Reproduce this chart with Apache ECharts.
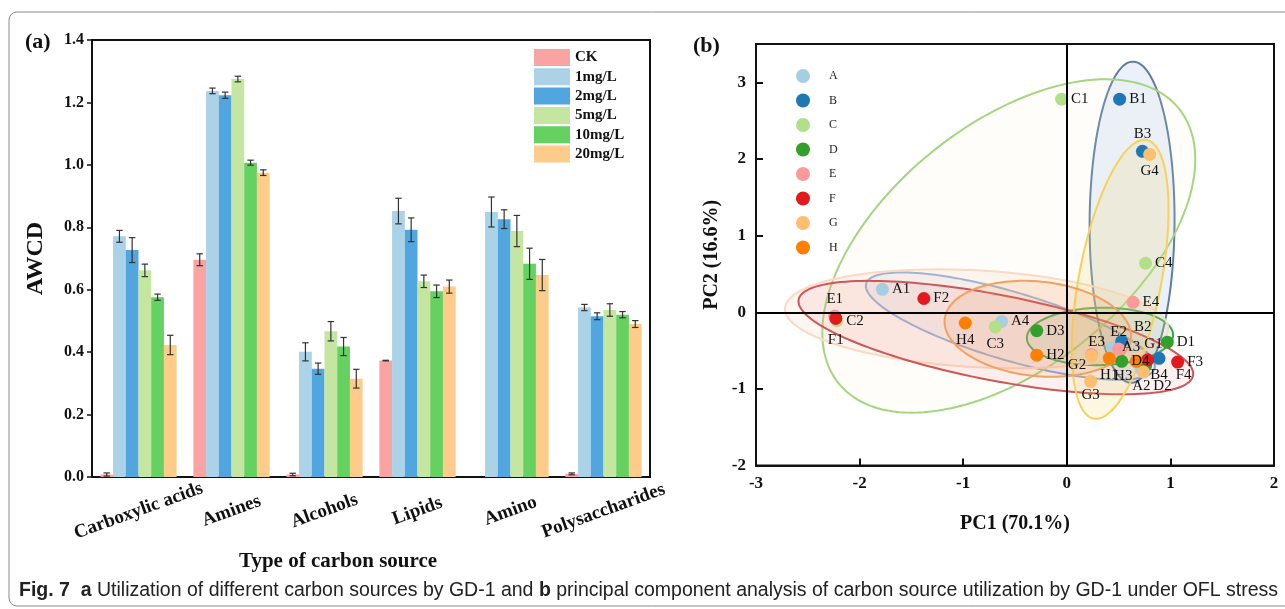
<!DOCTYPE html>
<html>
<head>
<meta charset="utf-8">
<script src="https://cdn.jsdelivr.net/npm/echarts@6/dist/echarts.min.js"></script>
<style>
    html, body { margin: 0; padding: 0; background: #fff; }
    #chart { width: 1285px; height: 609px; }
</style>
</head>
<body>
<div id="chart"></div>
<script>
    // Panel (a): average well colour development per carbon source type
    const categories = ['Carboxylic acids', 'Amines', 'Alcohols', 'Lipids', 'Amino', 'Polysaccharides'];
    const doseNames = ['CK', '1mg/L', '2mg/L', '5mg/L', '10mg/L', '20mg/L'];
    const awcdCK = [0.008, 0.696, 0.008, 0.373, null, 0.010];
    const awcd1 = [0.771, 1.237, 0.401, 0.852, 0.849, 0.543];
    const awcd2 = [0.727, 1.223, 0.347, 0.792, 0.826, 0.515];
    const awcd5 = [0.662, 1.275, 0.467, 0.627, 0.788, 0.535];
    const awcd10 = [0.576, 1.007, 0.418, 0.595, 0.683, 0.520];
    const awcd20 = [0.423, 0.975, 0.315, 0.610, 0.647, 0.490];
    // error bars (half length)
    const errCK = [0.005, 0.019, 0.004, 0.001, null, 0.003];
    const err1 = [0.019, 0.009, 0.029, 0.041, 0.048, 0.010];
    const err2 = [0.040, 0.010, 0.018, 0.038, 0.030, 0.011];
    const err5 = [0.020, 0.009, 0.031, 0.020, 0.050, 0.020];
    const err10 = [0.010, 0.008, 0.029, 0.020, 0.050, 0.010];
    const err20 = [0.031, 0.009, 0.030, 0.021, 0.050, 0.011];

    // Panel (b): PCA scores, 4 replicates per group
    const groups = ['A', 'B', 'C', 'D', 'E', 'F', 'G', 'H'];
    const pointsA = [[-1.78, 0.30], [0.72, -0.74], [0.44, -0.46], [-0.63, -0.12]];
    const pointsB = [[0.51, 2.78], [0.53, -0.38], [0.73, 2.10], [0.89, -0.60]];
    const pointsC = [[-0.05, 2.78], [-2.22, -0.11], [-0.69, -0.19], [0.76, 0.64]];
    const pointsD = [[0.97, -0.39], [0.76, -0.70], [-0.29, -0.24], [0.53, -0.64]];
    const pointsE = [[-2.24, -0.05], [0.50, -0.48], [0.24, -0.55], [0.64, 0.13]];
    const pointsF = [[-2.23, -0.08], [-1.38, 0.18], [1.07, -0.65], [0.78, -0.62]];
    const pointsG = [[0.74, -0.78], [0.24, -0.57], [0.23, -0.90], [0.80, 2.06]];
    const pointsH = [[0.41, -0.60], [-0.29, -0.56], [0.67, -0.64], [-0.98, -0.14]];

    // Confidence ellipses: centre PC1, centre PC2, half width, half height, correlation
    const ellipseA = [-0.545, -0.18, 1.395, 0.70, -0.75];
    const ellipseB = [0.63, 1.175, 0.41, 2.095, 0.02];
    const ellipseC = [-0.56, 0.865, 1.80, 2.175, 0.52];
    const ellipseD = [0.32, -0.315, 0.706, 0.375, 0.05];
    const ellipseE = [-0.87, -0.085, 1.85, 0.645, -0.2];
    const ellipseF = [-0.685, -0.33, 1.905, 0.74, -0.64];
    const ellipseG = [0.515, 0.43, 0.467, 1.82, 0.5];
    const ellipseH = [-0.28, -0.215, 0.90, 0.626, -0.15];

    const awcdSeries = [awcdCK, awcd1, awcd2, awcd5, awcd10, awcd20];
    const errSeries = [errCK, err1, err2, err5, err10, err20];
    const pcaPoints = [pointsA, pointsB, pointsC, pointsD, pointsE, pointsF, pointsG, pointsH];
    const ellipses = [ellipseA, ellipseB, ellipseC, ellipseD, ellipseE, ellipseF, ellipseG, ellipseH];

    const serif = '"Liberation Serif", "Times New Roman", serif';
    const sans = '"Liberation Sans", Arial, sans-serif';
    const barColors = ['#F9A3A3', '#ABD2E6', '#51A6E0', '#C4E6A1', '#64D161', '#FDCB8A'];
    const groupColors = ['#A6CEE3', '#1F78B4', '#B2DF8A', '#33A02C', '#FB9A99', '#E31A1C', '#FDBF6F', '#FF7F00'];
    const ellipseStroke = ['#82A9DA', '#5E7FA3', '#A3D67E', '#2EAE4E', '#FCD9C2', '#CD5659', '#F6D15C', '#F2A160'];
    const ellipseFill = [
        'rgba(130,170,220,0.09)', 'rgba(90,150,225,0.13)', 'rgba(245,240,210,0.10)', 'rgba(50,170,70,0.10)',
        'rgba(252,205,175,0.18)', 'rgba(220,90,90,0.09)', 'rgba(240,205,90,0.17)', 'rgba(245,150,80,0.14)'
    ];
    // where each point label sits relative to its point
    const labelPlacement = {
        A1: 'right', A2: 'bottom', A3: 'right', A4: 'right',
        B1: 'right', B2: 'top', B3: 'top', B4: 'bottom',
        C1: 'right', C2: 'right', C3: 'bottom', C4: 'right',
        D1: 'right', D2: 'bottom', D3: 'right', D4: 'right',
        E1: 'top', E2: 'top', E3: 'top', E4: 'right',
        F1: 'bottom', F2: 'right', F3: 'right', F4: 'bottom',
        G1: 'top', G2: 'left', G3: 'bottom', G4: 'bottom',
        H1: 'bottom', H2: 'right', H3: 'bottom', H4: 'bottom'
    };
    // labels pushed aside in the crowded cluster
    const labelNudge = {
        B2: [21, 3], D2: [17, 3], E3: [5, 5], F1: [0, 5], F4: [36, -2],
        G1: [10, -11], G2: [4, 9], H3: [-13, -2], G3: [0, -3]
    };

    const chart = echarts.init(document.getElementById('chart'));

    // Bars of panel (a)
    const barSeries = doseNames.map((name, i) => ({
        name: name,
        type: 'bar',
        xAxisIndex: 0,
        yAxisIndex: 0,
        data: awcdSeries[i],
        barGap: '0%',
        barCategoryGap: '18%',
        itemStyle: { color: barColors[i] },
        z: 2
    }));

    // Error bars: [category, value, error, dose index]
    const errorData = [];
    awcdSeries.forEach((vals, s) => {
        vals.forEach((v, c) => {
            if (v !== null) {
                errorData.push([c, v, errSeries[s][c], s]);
            }
        });
    });

    const errorSeries = {
        type: 'custom',
        xAxisIndex: 0,
        yAxisIndex: 0,
        z: 3,
        silent: true,
        data: errorData,
        encode: { x: 0, y: 1 },
        renderItem: (params, api) => {
            const c = api.value(0), v = api.value(1), e = api.value(2), s = api.value(3);
            const band = api.size([1, 0])[0];
            const barW = band * (1 - 0.18) / doseNames.length;
            const x = api.coord([c, v])[0] + (s - (doseNames.length - 1) / 2) * barW;
            const top = api.coord([c, v + e])[1];
            const bottom = api.coord([c, v - e])[1];
            const cap = 3.2;
            const style = { stroke: '#333', lineWidth: 1.2 };
            return {
                type: 'group',
                children: [
                    { type: 'line', shape: { x1: x, y1: top, x2: x, y2: bottom }, style: style },
                    { type: 'line', shape: { x1: x - cap, y1: top, x2: x + cap, y2: top }, style: style },
                    { type: 'line', shape: { x1: x - cap, y1: bottom, x2: x + cap, y2: bottom }, style: style }
                ]
            };
        }
    };

    // Ellipses of panel (b), drawn through the axes
    const ellipseSeries = {
        type: 'custom',
        xAxisIndex: 1,
        yAxisIndex: 1,
        z: 1,
        silent: true,
        data: ellipses,
        encode: { x: 0, y: 1 },
        renderItem: (params, api) => {
            const cx = api.value(0), cy = api.value(1), wx = api.value(2), hy = api.value(3), rho = api.value(4);
            const k = Math.sqrt(1 - rho * rho);
            const pts = [];
            const n = 160;
            for (let i = 0; i < n; i++) {
                const t = i / n * Math.PI * 2;
                pts.push(api.coord([cx + wx * Math.cos(t), cy + hy * (rho * Math.cos(t) + k * Math.sin(t))]));
            }
            const idx = params.dataIndex;
            return {
                type: 'polygon',
                shape: { points: pts },
                style: { fill: ellipseFill[idx], stroke: ellipseStroke[idx], lineWidth: 2 }
            };
        }
    };

    // Zero lines of panel (b)
    const zeroLines = {
        type: 'scatter',
        xAxisIndex: 1,
        yAxisIndex: 1,
        data: [],
        z: 2,
        markLine: {
            silent: true,
            symbol: 'none',
            animation: false,
            label: { show: false },
            lineStyle: { color: '#000', width: 2, type: 'solid' },
            data: [{ xAxis: 0 }, { yAxis: 0 }]
        }
    };

    const scatterSeries = groups.map((g, gi) => ({
        name: g,
        type: 'scatter',
        xAxisIndex: 1,
        yAxisIndex: 1,
        z: 4,
        symbolSize: 13,
        itemStyle: { color: groupColors[gi], opacity: 1 },
        label: {
            show: true,
            formatter: '{b}',
            fontFamily: serif,
            fontSize: 15,
            color: '#111',
            distance: 3
        },
        emphasis: { disabled: true },
        data: pcaPoints[gi].map((p, k) => {
            const id = g + (k + 1);
            return {
                value: p,
                name: id,
                label: { position: labelPlacement[id], offset: labelNudge[id] || [0, 0] }
            };
        })
    }));

    const axisLineStyle = { color: '#111', width: 2 };

    const option = {
        animation: false,
        backgroundColor: '#fff',
        grid: [
            { left: 92, top: 40, width: 558, height: 437, show: true, borderColor: '#111', borderWidth: 2, backgroundColor: 'transparent' },
            { left: 756, top: 44, width: 518, height: 421.6, show: true, borderColor: '#111', borderWidth: 2, backgroundColor: 'transparent' }
        ],
        legend: [
            {
                data: doseNames,
                orient: 'vertical',
                left: 534,
                top: 49,
                padding: 0,
                itemWidth: 36,
                itemHeight: 17,
                itemGap: 2.3,
                icon: 'rect',
                selectedMode: false,
                textStyle: { fontFamily: serif, fontWeight: 'bold', fontSize: 15, color: '#111' }
            },
            {
                data: groups,
                orient: 'vertical',
                left: 796,
                top: 69,
                padding: 0,
                itemWidth: 14,
                itemHeight: 14,
                itemGap: 10.5,
                icon: 'circle',
                selectedMode: false,
                textStyle: { fontFamily: serif, fontSize: 12, color: '#222', padding: [0, 0, 0, 14] }
            }
        ],
        xAxis: [
            {
                type: 'category',
                gridIndex: 0,
                data: categories,
                axisLine: { lineStyle: axisLineStyle },
                axisTick: { show: false },
                axisLabel: {
                    interval: 0,
                    rotate: 20,
                    align: 'center',
                    verticalAlign: 'middle',
                    margin: 34,
                    fontFamily: serif,
                    fontWeight: 'bold',
                    fontSize: 19,
                    color: '#111'
                },
                name: 'Type of carbon source',
                nameLocation: 'middle',
                nameGap: 74,
                nameTextStyle: { fontFamily: serif, fontWeight: 'bold', fontSize: 21, color: '#111', padding: [0, 66, 0, 0] }
            },
            {
                type: 'value',
                gridIndex: 1,
                min: -3,
                max: 2,
                interval: 1,
                axisLine: { onZero: false, lineStyle: axisLineStyle },
                axisTick: { inside: true, length: 7, lineStyle: { color: '#111', width: 2 } },
                axisLabel: { fontFamily: serif, fontWeight: 'bold', fontSize: 17, color: '#111', margin: 10 },
                splitLine: { show: false },
                name: 'PC1 (70.1%)',
                nameLocation: 'middle',
                nameGap: 48,
                nameTextStyle: { fontFamily: serif, fontWeight: 'bold', fontSize: 20, color: '#111' }
            }
        ],
        yAxis: [
            {
                type: 'value',
                gridIndex: 0,
                min: 0,
                max: 1.4,
                interval: 0.2,
                axisLine: { show: true, lineStyle: axisLineStyle },
                axisTick: { show: true, length: 5, lineStyle: { color: '#111', width: 1.5 } },
                axisLabel: {
                    formatter: (v) => v.toFixed(1),
                    fontFamily: serif,
                    fontWeight: 'bold',
                    fontSize: 16,
                    color: '#111',
                    margin: 8
                },
                splitLine: { show: false },
                name: 'AWCD',
                nameLocation: 'middle',
                nameGap: 44,
                nameTextStyle: { fontFamily: serif, fontWeight: 'bold', fontSize: 24, color: '#111' }
            },
            {
                type: 'value',
                gridIndex: 1,
                min: -2,
                max: 3.5,
                interval: 1,
                axisLine: { show: true, onZero: false, lineStyle: axisLineStyle },
                axisTick: { show: true, inside: true, length: 7, lineStyle: { color: '#111', width: 2 } },
                axisLabel: {
                    formatter: (v) => (Number.isInteger(v) ? String(v) : ''),
                    fontFamily: serif,
                    fontWeight: 'bold',
                    fontSize: 17,
                    color: '#111',
                    margin: 10
                },
                splitLine: { show: false },
                name: 'PC2 (16.6%)',
                nameLocation: 'middle',
                nameGap: 34,
                nameTextStyle: { fontFamily: serif, fontWeight: 'bold', fontSize: 20, color: '#111' }
            }
        ],
        graphic: [
            {
                type: 'rect',
                z: -10,
                silent: true,
                shape: { x: 9, y: 12, width: 1300, height: 594, r: 8 },
                style: { fill: 'none', stroke: '#8a8a8a', lineWidth: 1 }
            },
            {
                type: 'text',
                x: 25,
                y: 42,
                style: { text: '(a)', font: 'bold 22px ' + serif, fill: '#111', verticalAlign: 'middle' }
            },
            {
                type: 'text',
                x: 693,
                y: 46,
                style: { text: '(b)', font: 'bold 22px ' + serif, fill: '#111', verticalAlign: 'middle' }
            },
            {
                type: 'text',
                x: 19,
                y: 591,
                style: {
                    text: '{b|Fig. 7}  {b|a} Utilization of different carbon sources by GD-1 and {b|b} principal component analysis of carbon source utilization by GD-1 under OFL stress',
                    fontFamily: sans,
                    fontSize: 19.5,
                    fill: '#222',
                    verticalAlign: 'middle',
                    rich: {
                        b: { fontFamily: sans, fontSize: 19.5, fontWeight: 'bold', fill: '#222' }
                    }
                }
            }
        ],
        series: [].concat(barSeries, [errorSeries, ellipseSeries, zeroLines], scatterSeries)
    };

    chart.setOption(option);
</script>
</body>
</html>
